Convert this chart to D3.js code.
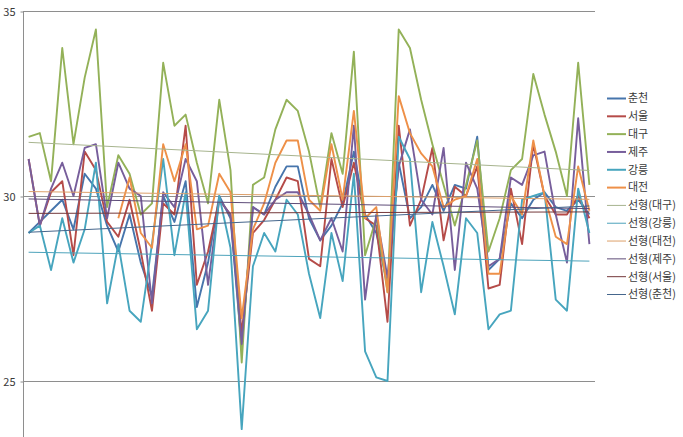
<!DOCTYPE html>
<html>
<head>
<meta charset="utf-8">
<script src="https://cdn.jsdelivr.net/npm/d3@7"></script>
<style>
  html, body { margin: 0; padding: 0; background: #fff; }
  svg { display: block; }
  text { font-family: "Noto Sans CJK KR", "Noto Sans", sans-serif; }
</style>
</head>
<body>
<svg id="chart" width="683" height="437"></svg>
<script>
// ---------- data ----------
const seriesNames = ["춘천", "서울", "대구", "제주", "강릉", "대전"];
const seriesColors = ["#4675AC", "#B54B48", "#93B158", "#775E9B", "#47A5BE", "#EE9048"];

const chuncheon = [29.0,29.3,29.6,29.9,29.1,30.6,30.2,29.2,28.5,29.5,28.2,27.3,30.0,29.3,30.4,27.0,28.2,30.0,29.4,25.9,29.7,29.5,30.25,30.8,30.8,29.4,28.8,29.2,29.8,31.2,29.5,29.0,27.6,30.9,29.4,29.7,30.3,29.6,30.3,30.2,31.6,28.0,28.3,29.8,29.4,29.9,30.1,29.7,29.6,29.9,29.5];
const seoul = [31.0,29.2,30.1,30.4,28.4,31.2,30.7,29.3,28.9,29.9,28.5,26.9,29.8,29.5,31.9,27.6,28.5,29.9,29.5,26.3,29.0,29.35,29.9,30.5,30.4,28.3,28.1,31.0,29.7,30.9,29.4,29.2,26.6,31.9,29.2,29.9,31.3,28.8,30.25,30.0,30.8,27.5,27.6,30.2,28.7,31.4,30.0,29.5,29.5,30.0,29.4];
const daegu = [31.6,31.7,30.4,34.0,31.4,33.2,34.5,29.7,31.1,30.6,29.5,29.8,33.6,31.9,32.2,30.9,29.8,32.6,30.7,25.5,30.3,30.5,31.8,32.6,32.3,31.2,29.7,31.7,30.6,33.9,28.4,29.4,27.4,34.5,34.0,32.6,31.4,30.3,29.2,30.3,31.5,28.5,29.4,30.7,31.0,33.3,32.2,31.2,30.0,33.6,30.3];
const jeju = [31.0,29.2,30.2,30.9,30.0,31.3,31.4,29.4,30.9,30.2,30.0,27.1,30.1,29.7,31.0,30.4,27.6,29.9,29.5,26.0,29.7,29.5,29.9,30.1,30.1,29.5,28.8,29.4,28.5,31.9,27.2,29.5,27.8,30.8,31.8,29.9,29.5,31.3,28.0,30.9,30.2,28.1,28.3,30.5,30.3,31.1,31.2,29.5,28.2,32.1,28.7];
const gangneung = [29.0,29.2,28.0,29.4,28.2,29.1,30.9,27.1,28.7,26.9,26.6,28.7,31.0,28.4,30.1,26.4,26.9,30.0,28.6,23.7,28.1,29.0,28.5,29.9,29.5,27.9,26.7,29.0,27.7,30.6,25.8,25.1,25.0,31.6,31.0,27.4,29.3,28.1,26.8,29.4,29.0,26.4,26.8,26.9,29.9,30.0,30.1,27.2,26.9,30.2,29.0];
const daejeon = [null,null,null,null,null,null,null,null,29.4,30.5,29.0,28.6,31.4,30.4,31.4,29.1,29.2,30.6,30.1,26.7,29.1,29.8,30.9,31.5,31.5,29.9,29.6,31.4,29.9,32.3,29.4,29.7,27.4,32.7,31.7,31.15,30.8,29.7,29.9,30.0,31.0,27.9,27.9,30.0,29.5,31.5,30.0,28.9,28.7,30.8,29.6];

// linear trend lines (선형): value at first and last category
const trendNames = ["선형(대구)", "선형(강릉)", "선형(대전)", "선형(제주)", "선형(서울)", "선형(춘천)"];
const trendStart = [31.45, 28.48, 30.12, 29.92, 29.53, 29.02];
const trendEnd   = [30.69, 28.24, 29.91, 29.66, 29.57, 29.73];
const trendColors = ["#A7B48E", "#4DA3BB", "#DDA06A", "#5E4C78", "#74383A", "#45668C"];

const yTicks = [25, 30, 35];
const yAxisBottom = 23.4;

// ---------- layout ----------
const svg = d3.select("#chart");
const plotLeft = 23, plotRight = 595;
const seriesValues = [chuncheon, seoul, daegu, jeju, gangneung, daejeon];
const nCat = daegu.length;

const x = d3.scalePoint().domain(d3.range(nCat)).range([plotLeft, plotRight]).padding(0.5);
const y = d3.scaleLinear().domain([25, 35]).range([381, 11]);

// gridlines
svg.append("g").selectAll("line").data(yTicks).join("line")
  .attr("x1", plotLeft).attr("x2", plotRight)
  .attr("y1", d => y(d) + 0.5).attr("y2", d => y(d) + 0.5)
  .attr("stroke", "#8E8E8E").attr("stroke-width", 1);

// y axis
const yAxis = d3.axisLeft(y).tickValues(yTicks).tickSize(3).tickPadding(5).tickFormat(d3.format("d"));
const gAxis = svg.append("g").attr("transform", `translate(${plotLeft + 0.5},0.5)`).call(yAxis);
gAxis.select(".domain").remove();
gAxis.selectAll(".tick line").attr("stroke", "#8E8E8E");
gAxis.selectAll(".tick text").attr("fill", "#3A3A3A").style("font-size", "11px")
  .style("font-family", "'Noto Sans CJK KR', sans-serif");
svg.append("line")
  .attr("x1", plotLeft + 0.5).attr("x2", plotLeft + 0.5)
  .attr("y1", y(35)).attr("y2", y(yAxisBottom))
  .attr("stroke", "#8E8E8E").attr("stroke-width", 1);

// series lines
const line = d3.line()
  .defined(d => d != null)
  .x((d, i) => x(i))
  .y(d => y(d));

const gSeries = svg.append("g");
seriesValues.forEach((vals, k) => {
  gSeries.append("path")
    .datum(vals)
    .attr("fill", "none")
    .attr("stroke", seriesColors[k])
    .attr("stroke-width", 1.9)
    .attr("stroke-linejoin", "round")
    .attr("d", line);
});

// trend lines
const gTrend = svg.append("g");
trendNames.forEach((n, k) => {
  gTrend.append("line")
    .attr("x1", x(0)).attr("x2", x(nCat - 1))
    .attr("y1", y(trendStart[k])).attr("y2", y(trendEnd[k]))
    .attr("stroke", trendColors[k]).attr("stroke-width", 1);
});

// legend
const legendItems = seriesNames.map((n, i) => ({ name: n, color: seriesColors[i], w: 2 }))
  .concat(trendNames.map((n, i) => ({ name: n, color: trendColors[i], w: 1 })));
const legY = d3.scalePoint().domain(d3.range(legendItems.length)).range([98.5, 294.5]);
const gLeg = svg.append("g");
legendItems.forEach((it, i) => {
  const yy = legY(i);
  gLeg.append("line")
    .attr("x1", 607).attr("x2", 626)
    .attr("y1", yy).attr("y2", yy)
    .attr("stroke", it.color).attr("stroke-width", it.w);
  gLeg.append("text")
    .attr("x", 628).attr("y", yy)
    .attr("dy", "0.35em")
    .attr("fill", "#3A3A3A")
    .style("font-size", "11px")
    .text(it.name);
});
</script>
</body>
</html>
